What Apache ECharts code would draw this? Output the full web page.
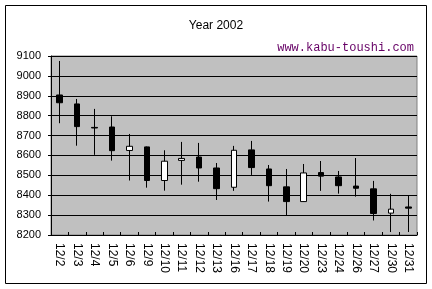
<!DOCTYPE html>
<html>
<head>
<meta charset="utf-8">
<script src="https://cdn.jsdelivr.net/npm/echarts@6/dist/echarts.min.js"></script>
<style>
  html, body { margin: 0; padding: 0; background: #fff; }
  #main { width: 432px; height: 289px; }
</style>
</head>
<body>
<div id="main"></div>
<script>
// 日付と四本値
var dates = ["12/2", "12/3", "12/4", "12/5", "12/6", "12/9", "12/10", "12/11", "12/12", "12/13",
  "12/16", "12/17", "12/18", "12/19", "12/20", "12/23", "12/24", "12/26", "12/27", "12/30", "12/31"];
var opens = [8904, 8859, 8741, 8743, 8625, 8643, 8474, 8575, 8592, 8537,
  8440, 8628, 8532, 8442, 8368, 8514, 8492, 8446, 8432, 8310, 8341];
var closes = [8865, 8745, 8738, 8624, 8646, 8474, 8571, 8585, 8537, 8433,
  8626, 8539, 8448, 8368, 8512, 8496, 8448, 8435, 8308, 8330, 8335];
var lows = [8762, 8649, 8603, 8574, 8474, 8438, 8423, 8453, 8468, 8376,
  8422, 8502, 8368, 8300, 8366, 8422, 8408, 8393, 8273, 8215, 8215];
var highs = [9075, 8884, 8834, 8797, 8708, 8645, 8626, 8668, 8663, 8562,
  8648, 8673, 8552, 8532, 8557, 8572, 8522, 8587, 8472, 8407, 8397];

var myChart = echarts.init(document.getElementById("main"));

var candleData = [];
for (var i = 0; i < dates.length; i++) {
  candleData.push([opens[i], closes[i], lows[i], highs[i]]);
}

var option = {
  animation: false,
  backgroundColor: "#fff",
  title: [
    {
      text: "Year 2002",
      left: "center",
      top: 15,
      textStyle: { fontSize: 12, fontWeight: "normal", color: "#000", fontFamily: "Liberation Sans" },
    },
    {
      text: "www.kabu-toushi.com",
      right: 13,
      top: 37,
      textStyle: { fontSize: 12, fontWeight: "normal", color: "#660066", fontFamily: "Liberation Mono" },
    },
  ],
  graphic: [
    {
      type: "rect",
      shape: { x: 5.5, y: 5.5, width: 421, height: 278 },
      style: { fill: "none", stroke: "#000", lineWidth: 1 },
    },
  ],
  grid: {
    left: 51,
    right: 15,
    top: 56,
    bottom: 54,
    show: true,
    backgroundColor: "#c0c0c0",
    borderColor: "#808080",
    borderWidth: 1,
  },
  xAxis: {
    type: "category",
    data: dates,
    boundaryGap: true,
    axisLine: { show: true, lineStyle: { color: "#000", width: 1 } },
    axisTick: { show: true, inside: true, length: 3, lineStyle: { color: "#000" } },
    axisLabel: {
      rotate: -90,
      interval: 0,
      margin: 8,
      fontSize: 12,
      color: "#000",
      fontFamily: "Liberation Sans",
    },
    splitLine: { show: false },
  },
  yAxis: {
    type: "value",
    min: 8200,
    max: 9100,
    interval: 100,
    axisLine: { show: true, lineStyle: { color: "#000", width: 1 } },
    axisTick: { show: true, length: 3, lineStyle: { color: "#000" } },
    axisLabel: {
      fontSize: 11,
      color: "#000",
      margin: 10,
      fontFamily: "Liberation Sans",
      formatter: function (v) { return String(v); },
    },
    splitLine: { show: true, lineStyle: { color: "#000", width: 1 } },
  },
  series: [
    {
      type: "candlestick",
      data: candleData,
      barWidth: 6,
      itemStyle: {
        color: "#fff",
        color0: "#000",
        borderColor: "#000",
        borderColor0: "#000",
        borderWidth: 1,
      },
    },
  ],
};

myChart.setOption(option);
</script>
</body>
</html>
